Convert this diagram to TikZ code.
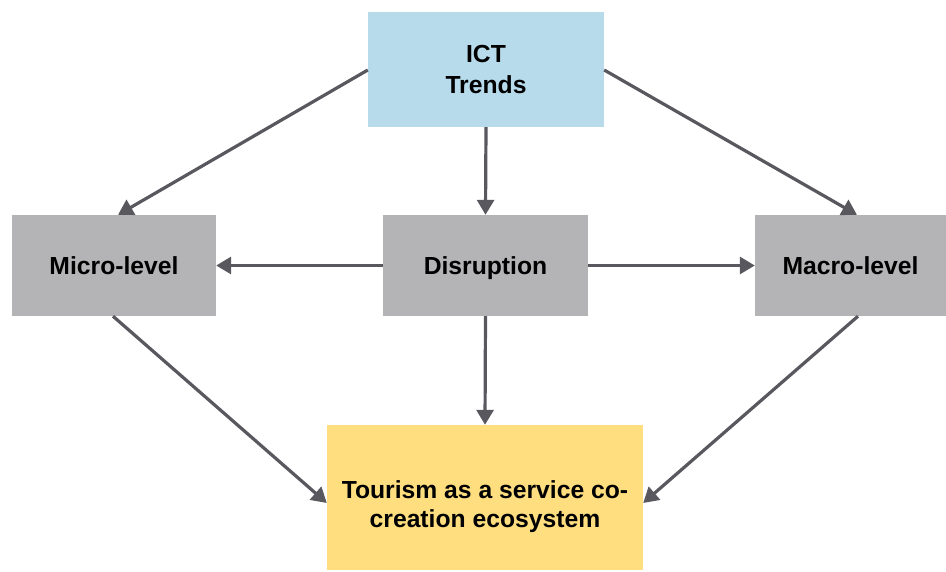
\documentclass[tikz,border=0pt]{standalone}
\usepackage{fontspec}
\setmainfont{Liberation Sans}
\usetikzlibrary{arrows.meta}
\definecolor{boxgray}{RGB}{180,180,182}
\definecolor{boxblue}{RGB}{183,219,234}
\definecolor{boxyellow}{RGB}{255,222,128}
\definecolor{arrowgray}{RGB}{88,88,94}
\begin{document}
\begin{tikzpicture}[x=1pt,y=-1pt,
  box/.style={draw=none,inner sep=0pt,font=\fontsize{24.7}{31}\selectfont\bfseries,align=center},
  oneline/.style={text height=17.7pt,text depth=0pt},
  conn/.style={draw=arrowgray,line width=3.2pt,-{Triangle[length=15pt,width=17pt]}}]
\useasboundingbox (0,0) rectangle (946,571);
\node[box,fill=boxblue,minimum width=236pt,minimum height=115pt] (ict) at (486,69.5) {ICT\\Trends};
\node[box,oneline,fill=boxgray,minimum width=204pt,minimum height=101pt] (micro) at (114,265.5) {Micro-level};
\node[box,oneline,fill=boxgray,minimum width=205pt,minimum height=101pt] (dis) at (485.5,265.5) {Disruption};
\node[box,oneline,fill=boxgray,minimum width=191pt,minimum height=101pt] (macro) at (850.5,265.5) {Macro-level};
\node[box,fill=boxyellow,minimum width=316pt,minimum height=145pt] (tour) at (485,497.5) {};
\node[box,font=\fontsize{24.7}{29}\selectfont\bfseries,yshift=-9.5pt] (tourtext) at (tour.center) {Tourism as a service co-\\creation ecosystem};
\draw[conn] (ict.west |- 0,70) -- (micro.north -| 118,0);
\draw[conn] (ict.south) -- (dis.north);
\draw[conn] (ict.east |- 0,70) -- (macro.north -| 857,0);
\draw[conn] (dis.west) -- (micro.east);
\draw[conn] (dis.east) -- (macro.west);
\draw[conn] (micro.south -| 113,0) -- (tour.west |- 0,503);
\draw[conn] (dis.south) -- (tour.north);
\draw[conn] (macro.south -| 858,0) -- (tour.east |- 0,503);
\end{tikzpicture}
\end{document}
